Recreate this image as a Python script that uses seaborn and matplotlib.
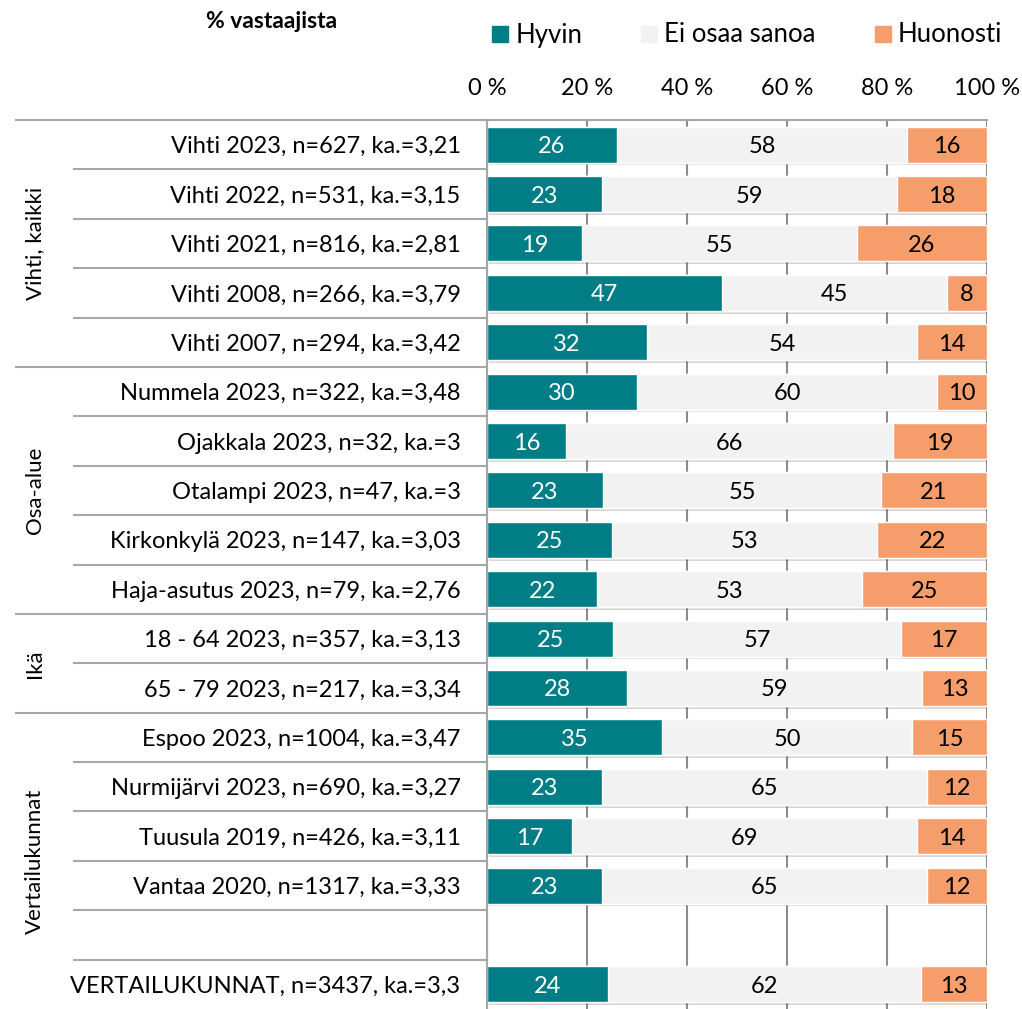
import numpy as np
import pandas as pd
import seaborn as sns
import matplotlib.pyplot as plt
import matplotlib.patheffects as pe
from matplotlib.lines import Line2D

# data (% of respondents)
rows = [
    "Vihti 2023, n=627, ka.=3,21",
    "Vihti 2022, n=531, ka.=3,15",
    "Vihti 2021, n=816, ka.=2,81",
    "Vihti 2008, n=266, ka.=3,79",
    "Vihti 2007, n=294, ka.=3,42",
    "Nummela 2023, n=322, ka.=3,48",
    "Ojakkala 2023, n=32, ka.=3",
    "Otalampi 2023, n=47, ka.=3",
    "Kirkonkylä 2023, n=147, ka.=3,03",
    "Haja-asutus 2023, n=79, ka.=2,76",
    "18 - 64 2023, n=357, ka.=3,13",
    "65 - 79 2023, n=217, ka.=3,34",
    "Espoo 2023, n=1004, ka.=3,47",
    "Nurmijärvi 2023, n=690, ka.=3,27",
    "Tuusula 2019, n=426, ka.=3,11",
    "Vantaa 2020, n=1317, ka.=3,33",
    "",
    "VERTAILUKUNNAT, n=3437, ka.=3,3",
]
hyvin = [26, 23, 19, 47, 32, 30, 16, 23, 25, 22, 25, 28, 35, 23, 17, 23, np.nan, 24]
ei_osaa = [58, 59, 55, 45, 54, 60, 66, 55, 53, 53, 57, 59, 50, 65, 69, 65, np.nan, 62]
huonosti = [16, 18, 26, 8, 14, 10, 19, 21, 22, 25, 17, 13, 15, 12, 14, 12, np.nan, 13]

groups = ["Vihti, kaikki", "Osa-alue", "Ikä", "Vertailukunnat"]
group_sizes = [5, 5, 2, 6]

series = ["Hyvin", "Ei osaa sanoa", "Huonosti"]
colors = ["#007D85", "#F2F2F2", "#F59E6B"]

df = pd.DataFrame({"rivi": rows, "h": hyvin, "e": ei_osaa, "u": huonosti}).dropna()
tot = df["h"] + df["e"] + df["u"]
df["c1"] = df["h"] / tot * 100
df["c2"] = (df["h"] + df["e"]) / tot * 100
df["c3"] = 100.0

plt.rcParams["font.family"] = ["Lato", "DejaVu Sans"]
fs = 17

fig = plt.figure(figsize=(10.22, 10.09), dpi=100)
ax = fig.add_axes([487 / 1022, 0, 500 / 1022, 1 - 120 / 1009])

bw = 0.73
sns.barplot(data=df, x="c3", y="rivi", order=rows, color=colors[2], width=bw,
            edgecolor="white", linewidth=1, orient="h", ax=ax, saturation=1)
for p in ax.patches:
    p.set_path_effects([pe.SimplePatchShadow(offset=(1.5, -2), alpha=0.2), pe.Normal()])
sns.barplot(data=df, x="c2", y="rivi", order=rows, color=colors[1], width=bw,
            edgecolor="white", linewidth=1, orient="h", ax=ax, saturation=1)
sns.barplot(data=df, x="c1", y="rivi", order=rows, color=colors[0], width=bw,
            edgecolor="white", linewidth=1, orient="h", ax=ax, saturation=1)

# value labels centred in each segment
for _, r in df.iterrows():
    yi = rows.index(r["rivi"])
    kw = dict(ha="center", va="center_baseline", fontsize=fs)
    ax.text(r["c1"] / 2, yi, f"{int(r['h'])}", color="white", **kw)
    ax.text((r["c1"] + r["c2"]) / 2, yi, f"{int(r['e'])}", color="black", **kw)
    ax.text((r["c2"] + 100) / 2, yi, f"{int(r['u'])}", color="black", **kw)

ax.set_xlim(0, 100)
ax.set_ylim(len(rows) - 0.5, -0.5)
ax.set_xticks([0, 20, 40, 60, 80, 100])
ax.set_xticklabels(["0 %", "20 %", "40 %", "60 %", "80 %", "100 %"])
ax.xaxis.tick_top()
ax.tick_params(axis="x", length=0, pad=15, labelsize=fs)
ax.tick_params(axis="y", length=0, pad=19, labelsize=fs)
ax.set_xlabel("")
ax.set_ylabel("")
ax.set_axisbelow(True)
ax.xaxis.grid(True, color="#8C8C8C", lw=1.5)
ax.yaxis.grid(False)
for s in ["right", "bottom"]:
    ax.spines[s].set_visible(False)
for s in ["top", "left"]:
    ax.spines[s].set_color("#A6A6A6")
    ax.spines[s].set_linewidth(1.5)

# category separators in the label area
tr = ax.get_yaxis_transform()
start = 0
for g, n in zip(groups, group_sizes):
    ax.hlines(start - 0.5, -0.944, 0, transform=tr, color="#A6A6A6", lw=1.5, clip_on=False)
    for k in range(1, n):
        ax.hlines(start + k - 0.5, -0.828, 0, transform=tr, color="#A6A6A6", lw=1.5, clip_on=False)
    ax.text(-0.904, start + (n - 1) / 2, g, transform=tr, rotation=90,
            ha="center", va="center", fontsize=fs - 1)
    start += n

fig.text(272 / 1022, 1 - 22 / 1009, "% vastaajista", ha="center", va="center",
         fontsize=fs - 0.5, fontweight="bold")

handles = [Line2D([], [], marker="s", ls="", color=c, markersize=12) for c in colors]
fig.legend(handles, series, loc="center", ncol=3, frameon=False, fontsize=fs + 1.5,
           bbox_to_anchor=(746 / 1022, 1 - 35 / 1009), handletextpad=0.2,
           columnspacing=2.2, handlelength=0.8)

fig.savefig("out.png", dpi=100)
